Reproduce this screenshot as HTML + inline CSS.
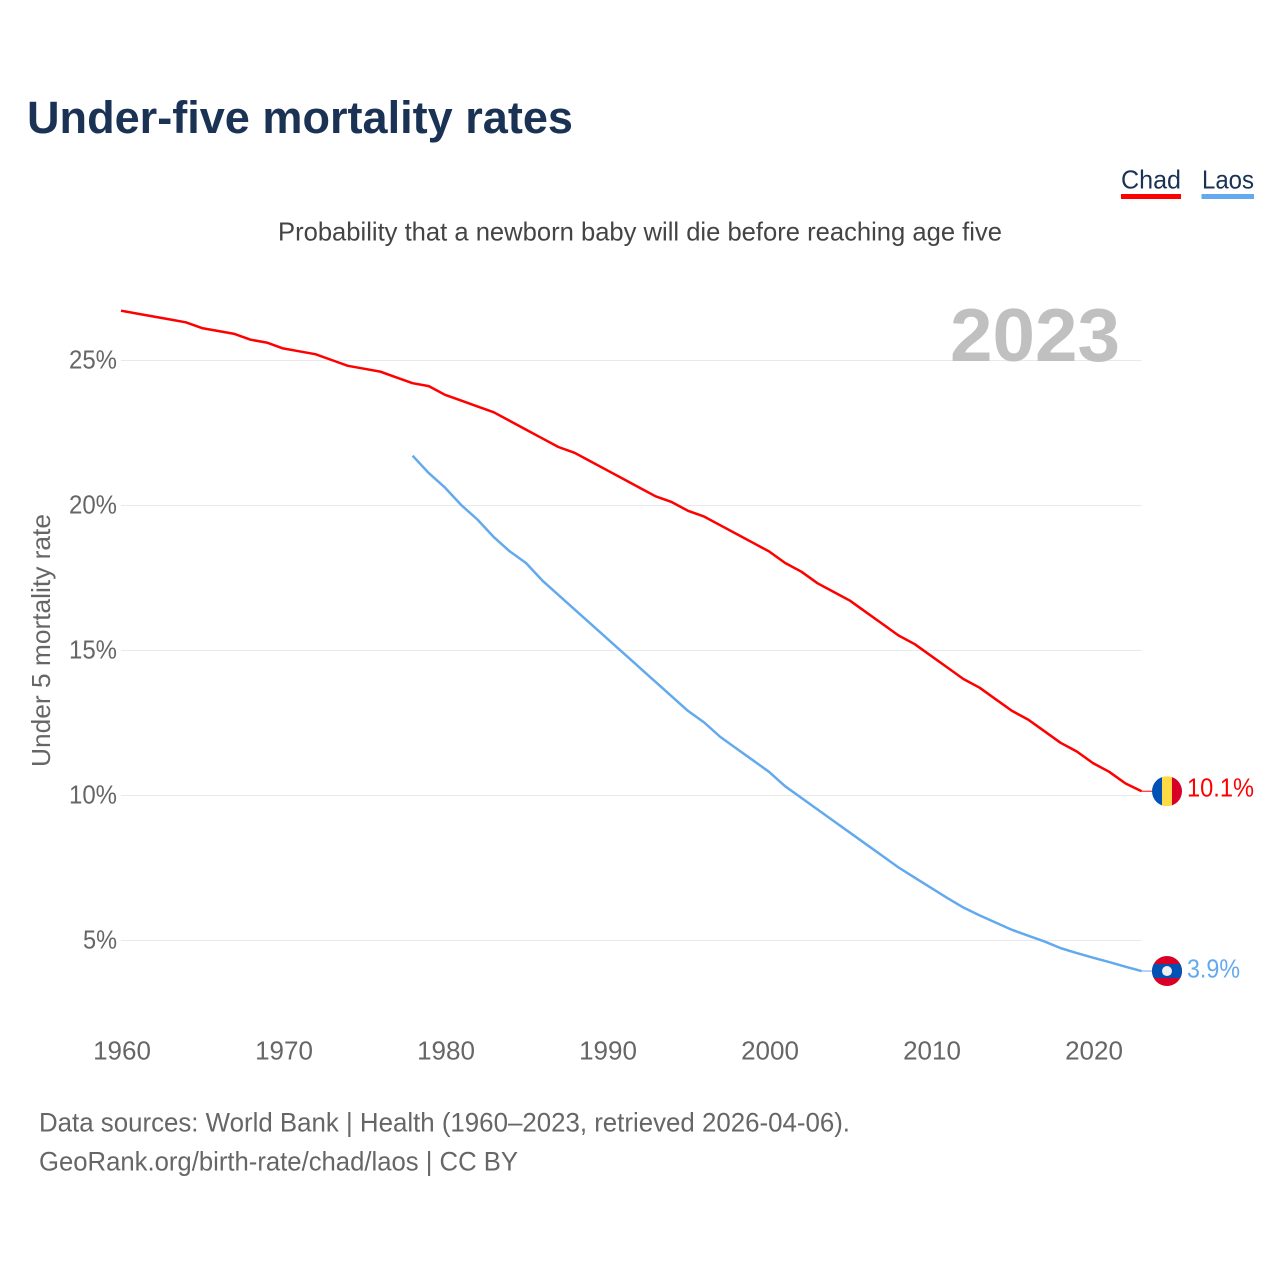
<!DOCTYPE html>
<html lang="en">
<head>
<meta charset="utf-8">
<title>Under-five mortality rates</title>
<style>
html,body{margin:0;padding:0;background:#fff;width:1280px;height:1280px;overflow:hidden}
svg{display:block}
text{font-family:"Liberation Sans",sans-serif}
</style>
</head>
<body>
<svg id="chart" width="1280" height="1280" viewBox="0 0 1280 1280" xmlns="http://www.w3.org/2000/svg">
  <defs>
    <clipPath id="clip-chad"><circle id="clip-chad-c" r="15"/></clipPath>
    <clipPath id="clip-laos"><circle id="clip-laos-c" r="15"/></clipPath>
  </defs>
  <rect width="1280" height="1280" fill="#fff"/>
  <text x="27" y="133" font-size="45" font-weight="700" fill="#1a3355" textLength="546" lengthAdjust="spacingAndGlyphs">Under-five mortality rates</text>
  <text x="1121" y="188.5" font-size="26" fill="#1a3355" textLength="60" lengthAdjust="spacingAndGlyphs">Chad</text>
  <rect x="1121" y="194" width="60" height="5" fill="#ff0000"/>
  <text x="1202" y="188.5" font-size="26" fill="#1a3355" textLength="52" lengthAdjust="spacingAndGlyphs">Laos</text>
  <rect x="1201.5" y="194" width="52.5" height="5" fill="#63a9ee"/>
  <text x="278" y="240.5" font-size="26" fill="#444" textLength="724" lengthAdjust="spacingAndGlyphs">Probability that a newborn baby will die before reaching age five</text>
  <g id="grid"></g>
  <text x="950" y="361" font-size="75" font-weight="700" fill="#c0c0c0" textLength="170" lengthAdjust="spacingAndGlyphs">2023</text>
  <g id="y-ticks"></g>
  <g id="x-ticks"></g>
  <text transform="translate(50,767) rotate(-90)" font-size="26" fill="#666" textLength="253" lengthAdjust="spacingAndGlyphs">Under 5 mortality rate</text>
  <g id="series"></g>
  <g id="flag-chad" clip-path="url(#clip-chad)"></g>
  <g id="flag-laos" clip-path="url(#clip-laos)"></g>
  <text id="label-chad" x="1187" font-size="26" fill="#ff0000" textLength="67" lengthAdjust="spacingAndGlyphs"></text>
  <text id="label-laos" x="1187" font-size="26" fill="#63a9ee" textLength="53" lengthAdjust="spacingAndGlyphs"></text>
  <text x="39" y="1131.5" font-size="27" fill="#666" textLength="811" lengthAdjust="spacingAndGlyphs">Data sources: World Bank | Health (1960–2023, retrieved 2026-04-06).</text>
  <text x="39" y="1170.5" font-size="27" fill="#666" textLength="479" lengthAdjust="spacingAndGlyphs">GeoRank.org/birth-rate/chad/laos | CC BY</text>
</svg>
<script>
const chadStartYear = 1960;
const laosStartYear = 1978;
const chadValues = [26.7,26.6,26.5,26.4,26.3,26.1,26.0,25.9,25.7,25.6,25.4,25.3,25.2,25.0,24.8,24.7,24.6,24.4,24.2,24.1,23.8,23.6,23.4,23.2,22.9,22.6,22.3,22.0,21.8,21.5,21.2,20.9,20.6,20.3,20.1,19.8,19.6,19.3,19.0,18.7,18.4,18.0,17.7,17.3,17.0,16.7,16.3,15.9,15.5,15.2,14.8,14.4,14.0,13.7,13.3,12.9,12.6,12.2,11.8,11.5,11.1,10.8,10.4,10.13];
const laosValues = [21.7,21.1,20.6,20.0,19.5,18.9,18.4,18.0,17.4,16.9,16.4,15.9,15.4,14.9,14.4,13.9,13.4,12.9,12.5,12.0,11.6,11.2,10.8,10.3,9.9,9.5,9.1,8.7,8.3,7.9,7.5,7.15,6.8,6.45,6.12,5.85,5.6,5.35,5.15,4.95,4.72,4.55,4.39,4.24,4.08,3.93];
const yTicks = [25,20,15,10,5];
const xTicks = [1960,1970,1980,1990,2000,2010,2020];

const NS = 'http://www.w3.org/2000/svg';
const xScale = function (year) { return 121 + (year - 1960) * 16.2; };
const yScale = function (v) { return 360 + (25 - v) * 29; };
const make = function (tag, parent, attrs) {
  const el = document.createElementNS(NS, tag);
  Object.keys(attrs).forEach(function (k) { el.setAttribute(k, attrs[k]); });
  parent.appendChild(el);
  return el;
};

const grid = document.getElementById('grid');
const yTickGroup = document.getElementById('y-ticks');
yTicks.forEach(function (t) {
  const line = make('line', grid, {x1: 121, x2: xScale(2023), y1: yScale(t) + 0.5, y2: yScale(t) + 0.5, stroke: '#e9e9e9', 'stroke-width': 1});
  
  
  const label = make('text', yTickGroup, {x: 117, y: yScale(t) + 8.5, 'text-anchor': 'end', 'font-size': 26, fill: '#666', textLength: t >= 10 ? 48 : 34, lengthAdjust: 'spacingAndGlyphs'});
  label.textContent = t + '%';
  
  
});

const xTickGroup = document.getElementById('x-ticks');
xTicks.forEach(function (t) {
  const label = make('text', xTickGroup, {x: xScale(t) + 1, y: 1059.5, 'text-anchor': 'middle', 'font-size': 26, fill: '#666'});
  label.textContent = String(t);
  
  
});

const seriesGroup = document.getElementById('series');
const pointsFor = function (values, startYear) {
  return values.map(function (v, i) { return xScale(startYear + i).toFixed(2) + ',' + yScale(v).toFixed(2); }).join(' ');
};
const chadLine = make('polyline', seriesGroup, {points: pointsFor(chadValues, chadStartYear), fill: 'none', stroke: '#ff0000', 'stroke-width': 2.5, 'stroke-linejoin': 'round'});


const laosLine = make('polyline', seriesGroup, {points: pointsFor(laosValues, laosStartYear), fill: 'none', stroke: '#63a9ee', 'stroke-width': 2.5, 'stroke-linejoin': 'round'});



const chadLast = chadValues[chadValues.length - 1];
const laosLast = laosValues[laosValues.length - 1];
const chadY = yScale(chadLast);
const laosY = yScale(laosLast);
const flagX = 1167;

const chadLeader = make('line', seriesGroup, {x1: xScale(2023), x2: flagX - 15, y1: chadY, y2: chadY, stroke: '#ff0000', 'stroke-width': 1});


const laosLeader = make('line', seriesGroup, {x1: xScale(2023), x2: flagX - 15, y1: laosY, y2: laosY, stroke: '#63a9ee', 'stroke-width': 1});



const cc = document.getElementById('clip-chad-c');
cc.setAttribute('cx', flagX);
cc.setAttribute('cy', chadY);
const cl = document.getElementById('clip-laos-c');
cl.setAttribute('cx', flagX);
cl.setAttribute('cy', laosY);

const fc = document.getElementById('flag-chad');
make('rect', fc, {x: flagX - 15, y: chadY - 15, width: 10, height: 30, fill: '#0052b4'});
make('rect', fc, {x: flagX - 5, y: chadY - 15, width: 10, height: 30, fill: '#ffda44'});
make('rect', fc, {x: flagX + 5, y: chadY - 15, width: 10, height: 30, fill: '#d80027'});

const fl = document.getElementById('flag-laos');
make('rect', fl, {x: flagX - 15, y: laosY - 15, width: 30, height: 30, fill: '#d80027'});
make('rect', fl, {x: flagX - 15, y: laosY - 7, width: 30, height: 14, fill: '#0052b4'});
make('circle', fl, {cx: flagX, cy: laosY, r: 5, fill: '#f0f0f0'});

const labelChad = document.getElementById('label-chad');
labelChad.setAttribute('y', chadY + 5.5);
labelChad.textContent = chadLast.toFixed(1) + '%';
const labelLaos = document.getElementById('label-laos');
labelLaos.setAttribute('y', laosY + 6.5);
labelLaos.textContent = laosLast.toFixed(1) + '%';
</script>
</body>
</html>
